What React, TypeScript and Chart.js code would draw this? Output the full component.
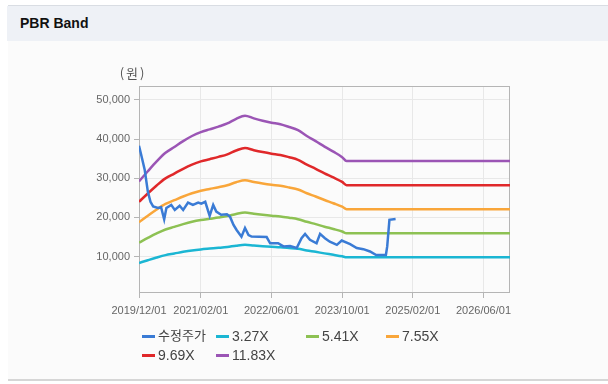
import React, { useEffect, useRef } from "react";
import { Chart, registerables } from "chart.js";

Chart.register(...registerables);

// ---------- DATA ----------
const seriesNames = ["수정주가", "3.27X", "5.41X", "7.55X", "9.69X", "11.83X"];
const seriesColors = ["#3a7bd5", "#1bb6d3", "#8dc153", "#f9a63a", "#e0282a", "#9b55b5"];

const bandDates = [
  "2019/12", "2020/02", "2020/04", "2020/06", "2020/08", "2020/10", "2020/12",
  "2021/02", "2021/04", "2021/06", "2021/08", "2021/10", "2021/12", "2022/02",
  "2022/04", "2022/06", "2022/08", "2022/10", "2022/12", "2023/02", "2023/04",
  "2023/06", "2023/08", "2023/10", "2023/11", "2026/12",
];
const band327 = [8360, 9080, 9770, 10380, 10790, 11210, 11570, 11840, 12040, 12230, 12450, 12780, 13000, 12810, 12650, 12510, 12400, 12200, 11980, 11570, 11210, 10820, 10460, 10070, 9800, 9800];
const band541 = [13570, 14760, 15900, 16910, 17590, 18280, 18880, 19330, 19650, 19970, 20340, 20890, 21250, 20930, 20660, 20430, 20250, 19930, 19560, 18880, 18280, 17640, 17050, 16410, 15950, 15950];
const band755 = [18780, 20440, 22040, 23440, 24400, 25350, 26180, 26820, 27270, 27720, 28230, 28990, 29500, 29060, 28670, 28350, 28100, 27650, 27140, 26180, 25350, 24460, 23630, 22740, 22100, 22100];
const band969 = [23990, 26120, 28170, 29970, 31200, 32430, 33490, 34310, 34880, 35460, 36110, 37100, 37750, 37180, 36690, 36280, 35950, 35380, 34720, 33490, 32430, 31280, 30220, 29070, 28250, 28250];
const band1183 = [29200, 31800, 34300, 36500, 38000, 39500, 40800, 41800, 42500, 43200, 44000, 45200, 46000, 45300, 44700, 44200, 43800, 43100, 42300, 40800, 39500, 38100, 36800, 35400, 34400, 34400];

const priceDates = [
  "2019/12/01", "2019/12/19", "2020/01/10", "2020/02/01", "2020/02/19", "2020/03/07",
  "2020/04/10", "2020/05/01", "2020/05/22", "2020/06/07", "2020/07/10", "2020/08/04",
  "2020/09/07", "2020/10/01", "2020/11/04", "2020/12/07", "2021/01/13", "2021/02/04",
  "2021/03/01", "2021/04/01", "2021/04/25", "2021/05/16", "2021/06/19", "2021/07/28",
  "2021/08/19", "2021/09/13", "2021/10/04", "2021/11/07", "2021/12/01", "2021/12/25",
  "2022/01/16", "2022/04/28", "2022/05/22", "2022/07/16", "2022/08/22", "2022/10/07",
  "2022/11/22", "2022/12/25", "2023/01/19", "2023/02/22", "2023/04/07", "2023/05/01",
  "2023/06/04", "2023/07/07", "2023/08/25", "2023/09/28", "2023/11/25", "2024/01/10",
  "2024/02/25", "2024/04/10", "2024/05/22", "2024/07/28", "2024/08/07", "2024/08/22",
  "2024/10/04",
];
const priceValues = [
  38300, 35500, 32100, 26600, 24000, 22800,
  22400, 22600, 19500, 22400, 23200, 21900,
  23000, 21900, 23800, 23200, 23800, 23500,
  24000, 20400, 23200, 21500, 20700, 20800,
  20200, 18100, 16800, 15100, 17300, 15500,
  15100, 15000, 13400, 13400, 12600, 12700,
  12200, 14700, 15800, 14300, 13400, 15800,
  14700, 13800, 13000, 14100, 13200, 12200,
  11900, 11300, 10400, 10400, 12600, 19400,
  19600,
];

const xTickLabels = ["2019/12/01", "2021/02/01", "2022/06/01", "2023/10/01", "2025/02/01", "2026/06/01"];
const yTickValues = [10000, 20000, 30000, 40000, 50000];
const xRange = ["2019/12/01", "2026/12/01"];
const yRange = [700, 53570];
const unitLabel = "(원)";
const titleText = "PBR Band";

// ---------- HELPERS ----------
function toMonth(s: string): number {
  const p = s.split("/").map(Number);
  const d = p.length > 2 ? (p[2] - 1) / 30 : 0;
  return (p[0] - 2019) * 12 + (p[1] - 12) + d;
}

const bandSeries = [band327, band541, band755, band969, band1183];

const boxPlugin = {
  id: "boxAndUnit",
  beforeDatasetsDraw(chart: any) {
    const { ctx, chartArea: a } = chart;
    ctx.save();
    ctx.strokeStyle = "#b5b5b5";
    ctx.lineWidth = 1;
    const l = Math.round(a.left) + 0.5;
    const t = Math.round(a.top) + 0.5;
    const r = Math.round(a.right) - 0.5;
    const b = Math.round(a.bottom) - 0.5;
    ctx.strokeRect(l, t, r - l, b - t);
    ctx.restore();
  },
  afterDraw(chart: any) {
    const { ctx, chartArea: a } = chart;
    ctx.save();
    ctx.fillStyle = "#555";
    ctx.font = '13px "Noto Sans CJK KR", sans-serif';
    ctx.textAlign = "center";
    ctx.textBaseline = "middle";
    try {
      (ctx as any).letterSpacing = "2px";
    } catch (e) {}
    ctx.fillText(unitLabel, a.left - 6, a.top - 13);
    ctx.restore();
  },
};

export default function App() {
  const ref = useRef<HTMLCanvasElement | null>(null);

  useEffect(() => {
    if (!ref.current) return;
    const datasets: any[] = [];
    datasets.push({
      label: seriesNames[0],
      data: priceDates.map((d, i) => ({ x: toMonth(d), y: priceValues[i] })),
      borderColor: seriesColors[0],
      borderWidth: 2.5,
      pointRadius: 0,
      tension: 0,
    });
    bandSeries.forEach((arr, k) => {
      datasets.push({
        label: seriesNames[k + 1],
        data: bandDates.map((d, i) => ({ x: toMonth(d), y: arr[i] })),
        borderColor: seriesColors[k + 1],
        borderWidth: 2.5,
        pointRadius: 0,
        cubicInterpolationMode: "monotone",
      });
    });

    const tickFont = { family: '"Liberation Sans", Arial, sans-serif', size: 11 };
    const chart = new Chart(ref.current, {
      type: "line",
      data: { datasets },
      plugins: [boxPlugin],
      options: {
        animation: false,
        responsive: false,
        events: [],
        layout: { padding: { left: 0, top: 86, right: 98, bottom: 61 } },
        plugins: { legend: { display: false }, tooltip: { enabled: false } },
        scales: {
          x: {
            type: "linear",
            min: toMonth(xRange[0]),
            max: toMonth(xRange[1]),
            afterBuildTicks: (s: any) => {
              s.ticks = xTickLabels.map((d) => ({ value: toMonth(d) }));
            },
            afterFit: (s: any) => {
              s.height = 30;
            },
            ticks: {
              autoSkip: false,
              maxRotation: 0,
              padding: 6,
              color: "#666",
              font: tickFont,
              callback: (_v: any, i: number) => xTickLabels[i],
            },
            grid: { color: "#e8e8e8", tickColor: "#b5b5b5", tickLength: 5, drawTicks: true },
            border: { display: false },
          },
          y: {
            type: "linear",
            min: yRange[0],
            max: yRange[1],
            afterBuildTicks: (s: any) => {
              s.ticks = yTickValues.map((v) => ({ value: v }));
            },
            afterFit: (s: any) => {
              s.width = 139;
            },
            ticks: {
              padding: 4,
              color: "#666",
              font: tickFont,
              callback: (v: any) => Number(v).toLocaleString("en-US"),
            },
            grid: { color: "#e8e8e8", tickColor: "#b5b5b5", tickLength: 5, drawTicks: true },
            border: { display: false },
          },
        },
      } as any,
    });
    return () => chart.destroy();
  }, []);

  const legendPos = [
    { x: 142, y: 336 },
    { x: 216, y: 336 },
    { x: 306, y: 336 },
    { x: 386, y: 336 },
    { x: 142, y: 355 },
    { x: 216, y: 355 },
  ];

  return (
    <div
      style={{
        position: "fixed",
        left: 0,
        top: 0,
        width: 608,
        height: 384,
        background: "#fff",
        overflow: "hidden",
        fontFamily: '"Liberation Sans", "Noto Sans CJK KR", sans-serif',
      }}
    >
      <div
        style={{
          position: "absolute",
          left: 8,
          top: 5,
          width: 600,
          height: 376,
          boxSizing: "border-box",
          background: "#fbfbfb",
          borderTop: "1px solid #d9dde3",
          borderBottom: "2px solid #d6d6d6",
        }}
      />
      <div style={{ position: "absolute", left: 7, top: 6, width: 601, height: 35, background: "#eef1f6" }} />
      <div
        style={{
          position: "absolute",
          left: 20,
          top: 16,
          fontSize: 14,
          lineHeight: "15px",
          fontWeight: "bold",
          color: "#111",
          whiteSpace: "nowrap",
        }}
      >
        {titleText}
      </div>
      <canvas
        ref={ref}
        width={608}
        height={384}
        style={{ position: "absolute", left: 0, top: 0, width: 608, height: 384 }}
      />
      {seriesNames.map((name, i) => (
        <div key={name}>
          <div
            style={{
              position: "absolute",
              left: legendPos[i].x,
              top: legendPos[i].y - 1.5,
              width: 13,
              height: 3,
              background: seriesColors[i],
            }}
          />
          <div
            style={{
              position: "absolute",
              left: legendPos[i].x + 16,
              top: legendPos[i].y - 8,
              fontSize: i === 0 ? 13 : 14,
              lineHeight: "16px",
              color: "#444",
              whiteSpace: "nowrap",
            }}
          >
            {name}
          </div>
        </div>
      ))}
    </div>
  );
}
